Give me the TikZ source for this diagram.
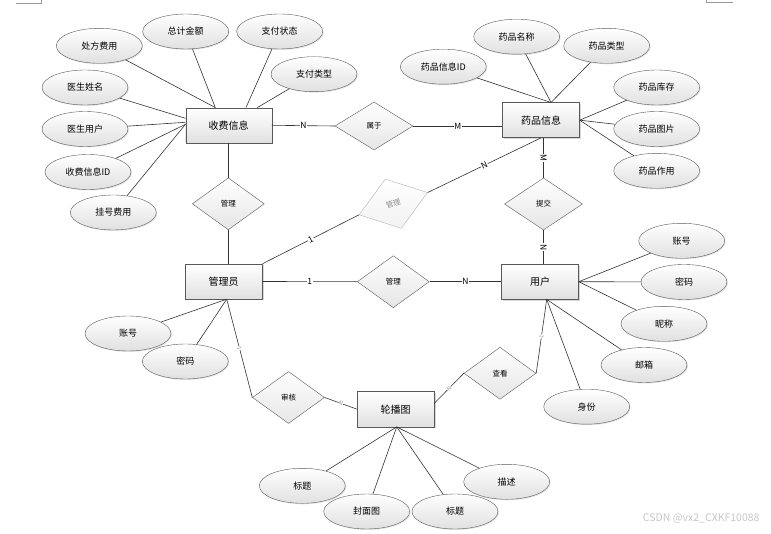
\documentclass[tikz,border=0pt]{standalone}
\usepackage{fontspec}
\setmainfont{Noto Sans CJK SC}
\usetikzlibrary{shapes.geometric,shadows,calc}
\tikzset{
  ent/.style={draw=black!65,rectangle,minimum width=77pt,minimum height=35pt,inner sep=0pt,
    top color=white,bottom color=black!12,drop shadow={shadow xshift=1.5pt,shadow yshift=-1.5pt,fill=black!30},
    font=\fontsize{10}{12}\selectfont},
  attr/.style={draw=black!65,ellipse,minimum width=86pt,minimum height=35pt,inner sep=0pt,
    top color=white,bottom color=black!12,drop shadow={shadow xshift=1pt,shadow yshift=-1pt,fill=black!20},
    font=\fontsize{9}{11}\selectfont},
  rel/.style={draw=black!65,diamond,minimum width=72pt,minimum height=52pt,inner sep=0pt,
    top color=white,bottom color=black!10,font=\fontsize{7.5}{9}\selectfont},
  lnk/.style={draw=black!80,line width=0.6pt},
  card/.style={fill=white,inner sep=0.6pt,font=\fontsize{8.5}{9}\selectfont},
  cardsm/.style={fill=white,inner sep=0.3pt,text=black!45,font=\fontsize{5.5}{6}\selectfont},
}
\begin{document}
\begin{tikzpicture}[x=1pt,y=-1pt]
\useasboundingbox (0,0) rectangle (771,534);
% page corner marks
\draw[black!40,line width=0.6pt](16,3.3)--(41.7,3.3)--(41.7,0);
\draw[black!40,line width=0.6pt](706,0)--(706,2.7)--(732.7,2.7);
% entities
\node[ent,minimum width=86pt] (sfxx) at (228.7,125.3) {收费信息};
\node[ent] (ypxx) at (541,120.2) {药品信息};
\node[ent] (gly) at (223.7,281.5) {管理员};
\node[ent] (yh) at (540,281.7) {用户};
\node[ent] (lbt) at (395.7,409.2) {轮播图};
% relations
\node[rel,minimum width=78pt,minimum height=48pt] (sy) at (374,126) {属于};
\node[rel] (gla) at (228.3,203.8) {管理};
\node[rel,minimum width=78pt] (tj) at (543.5,204) {提交};
\node[rel] (glb) at (393.3,281.7) {管理};
\node[rel,rotate=18,draw=black!30,text=black!45,bottom color=black!5] (glc) at (393.3,203.7) {管理};
\node[rel] (sh) at (288.5,397.5) {审核};
\node[rel] (ck) at (500,373.3) {查看};
% attributes
\foreach \nm/\px/\py/\txt in {cffy/99.3/45.8/处方费用,zjje/185.7/31.5/总计金额,zfzt/279.7/31.5/支付状态,
  zflx/314/74.2/支付类型,ysxm/85/87.5/医生姓名,ysyh/85/129/医生用户,sfid/88/172/收费信息ID,ghfy/113.3/212.5/挂号费用,
  ypid/443.3/66.7/药品信息ID,ypmc/516.7/36.7/药品名称,yplx/606.7/45.8/药品类型,
  ypkc/656.7/87.5/药品库存,yptp/656.7/129/药品图片,ypzy/656.7/170.8/药品作用,
  yhzh/681.7/240.8/账号,yhmm/684/282/密码,yhnc/664/323.8/昵称,yhyx/644/365/邮箱,yhsf/586.7/406.7/身份,
  glzh/128/333.5/账号,glmm/185.3/361.5/密码,
  bta/302.3/485.8/标题,fmt/366.7/511.5/封面图,btb/455/511.5/标题,ms/506.7/481.8/描述}
  {\node[attr] (\nm) at (\px,\py) {\txt};}
% meeting points on the entities
\coordinate (sfTa) at ($(sfxx.north)+(-13.4,0)$);
\coordinate (sfTb) at ($(sfxx.north)+(17.3,0)$);
\coordinate (sfTc) at ($(sfxx.north)+(28.6,0)$);
\coordinate (sfLa) at ($(sfxx.west)+(0,-7)$);
\coordinate (sfLb) at ($(sfxx.west)+(0,-3)$);
\coordinate (sfLc) at ($(sfxx.west)+(0,-1)$);
\coordinate (ypT) at ($(ypxx.north)+(10,0)$);
\coordinate (yhB) at ($(yh.south)+(6.7,0)$);
\coordinate (glyB) at ($(gly.south)+(3,0)$);
\coordinate (lbtB) at ($(lbt.south)+(1,0)$);
\foreach \a/\b in {cffy/sfTa,zjje/sfTa,zfzt/sfTb,zflx/sfTc,ysxm/sfLa,ysyh/sfLb,sfid/sfLc,ghfy/sfLc,
  ypid/ypT,ypmc/ypT,yplx/ypT,ypkc/ypxx.east,yptp/ypxx.east,ypzy/ypxx.east,
  yhzh/yh.east,yhmm/yh.east,yhnc/yh.east,yhyx/yhB,yhsf/yhB,glzh/glyB,glmm/glyB,
  bta/lbtB,fmt/lbtB,btb/lbtB,ms/lbtB}
  {\draw[lnk](\a)--(\b);}
% relation lines
\draw[lnk](sfxx.east)--node[card]{N}(sy.west);
\draw[lnk](sy.east)--node[card]{M}(sy.east-|ypxx.west);
\draw[lnk](gla.north|-sfxx.south)--(gla.north);
\draw[lnk](gla.south)--(gla.south|-gly.north);
\draw[lnk](tj.north|-ypxx.south)--node[card,sloped]{M}(tj.north);
\draw[lnk](tj.south)--node[card,sloped]{N}(tj.south|-yh.north);
\draw[lnk](gly.east)--node[card]{1}(glb.west);
\draw[lnk](glb.east)--node[card]{N}(yh.west);
\draw[lnk](gly.north east)--node[card,sloped]{1}(glc.west);
\draw[lnk](glc.east)--node[card,sloped]{N}(ypxx.south);
\draw[lnk](glyB)--node[cardsm,sloped]{1}(sh.west);
\draw[lnk](sh.east)--node[cardsm,sloped]{N}(lbt.west);
\draw[lnk]([yshift=6pt]lbt.east)--node[cardsm,sloped]{N}(ck.west);
\draw[lnk](yhB)--node[cardsm,sloped]{1}(ck.east);
% watermark
\node[anchor=east,text=black!22,font=\fontsize{10.5}{12}\selectfont] (wm) at (763,518.5) {CSDN @vx2\_CXKF10088};
\end{tikzpicture}
\end{document}
